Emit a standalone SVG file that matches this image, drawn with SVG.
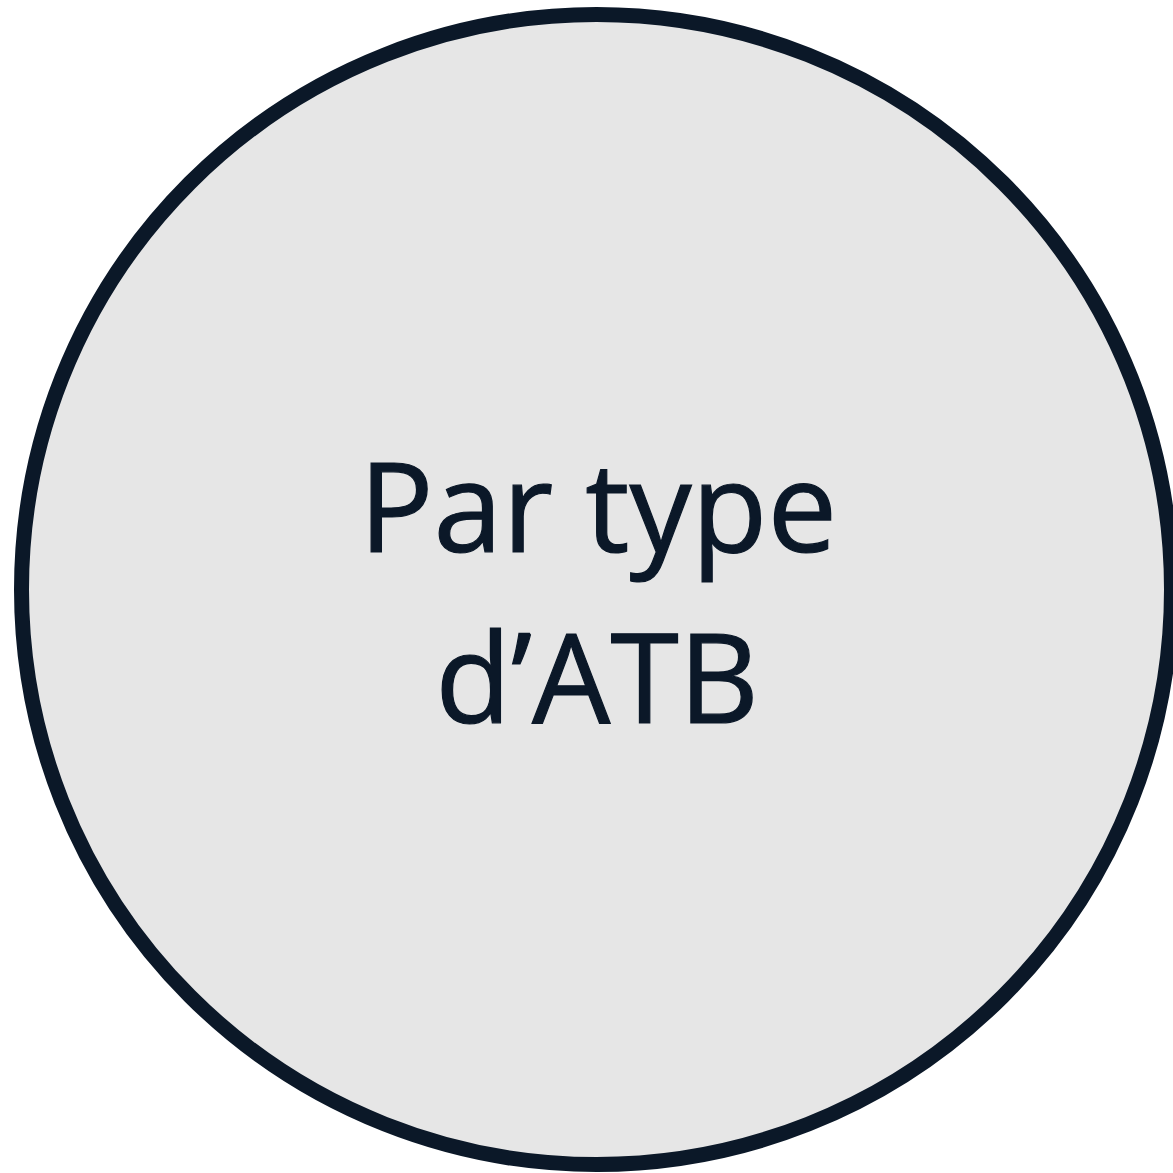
<svg xmlns="http://www.w3.org/2000/svg" width="1173" height="1173" viewBox="0 0 1173 1173">
<style>
.bg{fill:#ffffff}
.node{fill:#E6E6E6;stroke:#0B1828;stroke-width:15}
.lbl{font-family:"Open Sans","Noto Sans","Liberation Sans",sans-serif;font-size:124px;fill:#0B1828;text-anchor:middle;stroke:#0B1828;stroke-width:1.2}
</style>
<rect class="bg" x="0" y="0" width="1173" height="1173"/>
<g id="node-par-type">
<circle class="node" cx="596.5" cy="589.5" r="575"/>
<text class="lbl" x="598" y="552">Par type</text>
<text class="lbl" x="597" y="723">d’ATB</text>
</g>
<g id="connectors"></g>
</svg>
